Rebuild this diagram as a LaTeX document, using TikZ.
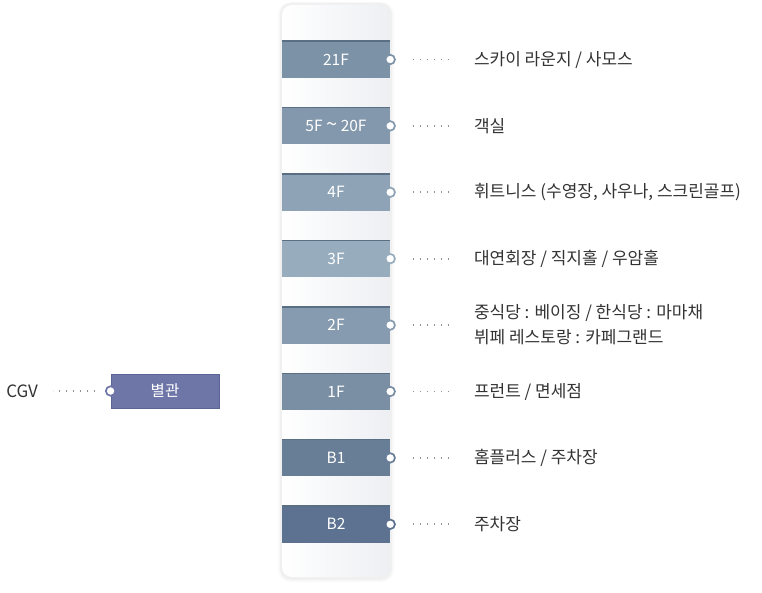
\documentclass[tikz,border=0pt]{standalone}
\usepackage{fontspec}
\setmainfont{Noto Sans CJK KR}
\usepackage{xcolor}
\usepackage{tikz}
\usetikzlibrary{positioning}
\definecolor{TowerRight}{HTML}{EDEFF3}
\definecolor{FloorTop}{HTML}{5B6F84}
\definecolor{Fl21}{HTML}{7C92A6}
\definecolor{FlMid}{HTML}{8398AC}
\definecolor{Fl4}{HTML}{8EA4B6}
\definecolor{Fl3}{HTML}{97ADBE}
\definecolor{Fl2}{HTML}{869BAF}
\definecolor{Fl1}{HTML}{7A8FA4}
\definecolor{FlB1}{HTML}{687E97}
\definecolor{FlB2}{HTML}{5C7290}
\definecolor{Annex}{HTML}{6E76A8}
\definecolor{AnnexEdge}{HTML}{5C6396}
\definecolor{LabelGray}{HTML}{333333}
\definecolor{DotGray}{HTML}{8E9298}

\begin{document}
\begin{tikzpicture}[
  x=1pt,y=-1pt,
  node distance=29pt,
  tower/.style={rounded corners=10pt,minimum width=108pt,minimum height=572pt,
    inner sep=0pt,left color=white,right color=TowerRight},
  floor/.style={minimum width=108pt,minimum height=37pt,inner sep=0pt,
    text=white,font=\fontsize{15.5}{18}\selectfont,
    path picture={\draw[FloorTop,line width=2pt]
      (path picture bounding box.north west)--(path picture bounding box.north east);}},
  pin/.style={circle,draw=#1,line width=1.7pt,fill=white,minimum size=9.5pt,inner sep=0pt},
  lbl/.style={anchor=west,inner sep=0pt,align=left,text=LabelGray,
    font=\fontsize{17}{25}\selectfont},
  dots/.style={DotGray,line width=1.8pt,dash pattern=on 1.4pt off 5.6pt}
]
\useasboundingbox (0,0) rectangle (762,593);
% tower with a soft shadow
\fill[black,opacity=0.025,rounded corners=13pt] (278,2) rectangle (394,582);
\fill[black,opacity=0.035,rounded corners=11pt] (280,3) rectangle (392,580);
\node[tower] (tower) at (336,291) {};

\node[floor,fill=Fl21,below=36pt of tower.north] (f21) {21F};
\node[floor,fill=FlMid,below=of f21] (f5) {5F\hspace{3.5pt}{\fontsize{20}{18}\selectfont\textasciitilde}\hspace{3.5pt}20F};
\node[floor,fill=Fl4,below=of f5] (f4) {4F};
\node[floor,fill=Fl3,below=of f4] (f3) {3F};
\node[floor,fill=Fl2,below=of f3] (f2) {2F};
\node[floor,fill=Fl1,below=of f2] (f1) {1F};
\node[floor,fill=FlB1,below=of f1] (b1) {B1};
\node[floor,fill=FlB2,below=of b1] (b2) {B2};

\node[pin=Fl21] (p21) at (f21.east) {};
\node[pin=FlMid] (p5) at (f5.east) {};
\node[pin=Fl4] (p4) at (f4.east) {};
\node[pin=Fl3] (p3) at (f3.east) {};
\node[pin=Fl2] (p2) at (f2.east) {};
\node[pin=Fl1] (p1) at (f1.east) {};
\node[pin=FlB1] (pb1) at (b1.east) {};
\node[pin=FlB2] (pb2) at (b2.east) {};

\node[lbl,right=78pt of p21] (t21) {스카이 라운지 / 사모스};
\node[lbl,right=78pt of p5] (t5) {객실};
\node[lbl,right=78pt of p4] (t4) {휘트니스 (수영장, 사우나, 스크린골프)};
\node[lbl,right=78pt of p3] (t3) {대연회장 / 직지홀 / 우암홀};
\node[lbl,right=78pt of p2] (t2) {중식당 : 베이징 / 한식당 : 마마채\\뷔페 레스토랑 : 카페그랜드};
\node[lbl,right=78pt of p1] (t1) {프런트 / 면세점};
\node[lbl,right=78pt of pb1] (tb1) {홈플러스 / 주차장};
\node[lbl,right=78pt of pb2] (tb2) {주차장};

\draw[dots,shorten <=17pt,shorten >=20pt] (p21) -- (t21);
\draw[dots,shorten <=17pt,shorten >=20pt] (p5) -- (t5);
\draw[dots,shorten <=17pt,shorten >=20pt] (p4) -- (t4);
\draw[dots,shorten <=17pt,shorten >=20pt] (p3) -- (t3);
\draw[dots,shorten <=17pt,shorten >=20pt] (p2) -- (t2);
\draw[dots,shorten <=17pt,shorten >=20pt] (p1) -- (t1);
\draw[dots,shorten <=17pt,shorten >=20pt] (pb1) -- (tb1);
\draw[dots,shorten <=17pt,shorten >=20pt] (pb2) -- (tb2);

% annex building
\node[minimum width=108pt,minimum height=34pt,inner sep=0pt,fill=Annex,
  draw=AnnexEdge,line width=0.8pt,text=white,font=\fontsize{15.5}{18}\selectfont]
  (annex) at (165,391) {별관};
\node[pin=Annex] (pa) at (annex.west) {};
\node[lbl,anchor=east,left=67pt of pa] (cgv) {CGV};
\draw[dots,shorten <=10pt,shorten >=15pt] (pa) -- (cgv);
\end{tikzpicture}
\end{document}
